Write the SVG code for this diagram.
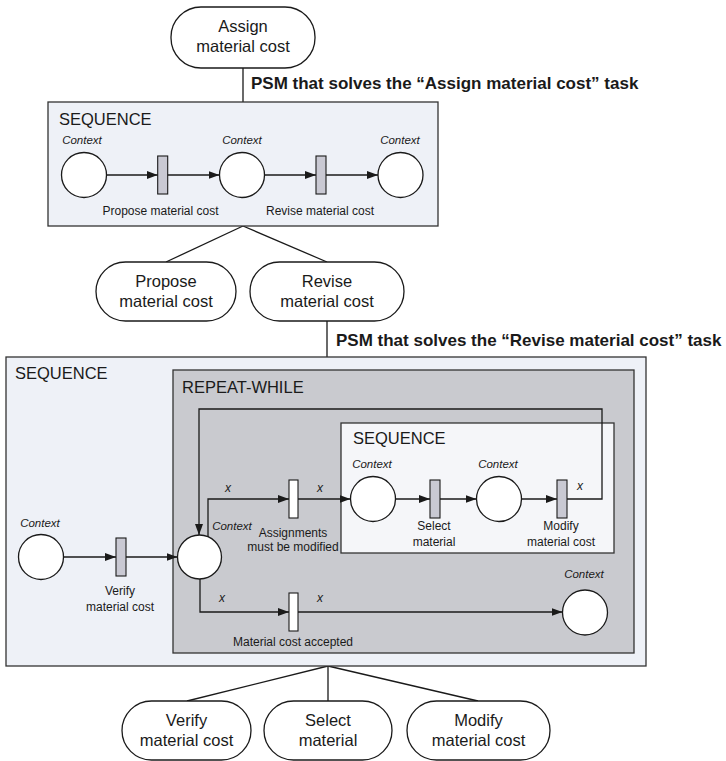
<svg xmlns="http://www.w3.org/2000/svg" width="726" height="761" viewBox="0 0 726 761">
<style>
text{font-family:"Liberation Sans",Arial,sans-serif;fill:#1a1a1a}
.task{font-size:16.5px;text-anchor:middle}
.hdr{font-size:16.5px}
.psm{font-size:17px;font-weight:bold}
.ctx{font-size:11.5px;font-style:italic;text-anchor:middle}
.lbl{font-size:12px;text-anchor:middle}
.x{font-size:12px;font-style:italic;text-anchor:middle}
.node{fill:#fff;stroke:#1a1a1a;stroke-width:1.3}
.place{fill:#fff;stroke:#1a1a1a;stroke-width:1.3}
.trg{fill:#c9c9d3;stroke:#1a1a1a;stroke-width:1.1}
.trw{fill:#fff;stroke:#1a1a1a;stroke-width:1.1}
.box1{fill:#eef1f7;stroke:#333;stroke-width:1.3}
.box2{fill:#c9cacf;stroke:#333;stroke-width:1.3}
.box3{fill:#f5f6f9;stroke:#333;stroke-width:1.3}
.c{fill:none;stroke:#1a1a1a;stroke-width:1.3}
.a{marker-end:url(#arr)}
</style>
<defs>
<marker id="arr" markerUnits="userSpaceOnUse" markerWidth="11" markerHeight="8" refX="11" refY="4" orient="auto">
<path d="M0,0 L11,4 L0,8 z" fill="#1a1a1a"/>
</marker>
</defs>

<g id="connectors-top">
<line class="c" x1="243" y1="68" x2="243" y2="102"/>
<line class="c" x1="243" y1="226" x2="166" y2="262"/>
<line class="c" x1="243" y1="226" x2="327" y2="262"/>
<line class="c" x1="327" y1="321" x2="327" y2="357"/>
<line class="c" x1="328" y1="666" x2="187" y2="701"/>
<line class="c" x1="328" y1="666" x2="328" y2="701"/>
<line class="c" x1="328" y1="666" x2="478" y2="701"/>
</g>

<g id="task-assign">
<rect class="node" x="171" y="7" width="144" height="61" rx="30" ry="30"/>
<text class="task" x="243" y="32">Assign</text>
<text class="task" x="243" y="52">material cost</text>
</g>
<text class="psm" x="251" y="89">PSM that solves the “Assign material cost” task</text>

<g id="psm-assign">
<rect class="box1" x="48" y="102" width="390" height="124"/>
<text class="hdr" x="59" y="125">SEQUENCE</text>
<text class="ctx" x="82" y="144">Context</text>
<text class="ctx" x="242" y="144">Context</text>
<text class="ctx" x="400" y="144">Context</text>
<circle class="place" cx="84" cy="175" r="22.5"/>
<circle class="place" cx="242" cy="175" r="22.5"/>
<circle class="place" cx="400.5" cy="175" r="22.5"/>
<rect class="trg" x="157.7" y="156" width="10" height="38"/>
<rect class="trg" x="316" y="156" width="10" height="38"/>
<text class="lbl" x="160.5" y="215">Propose material cost</text>
<text class="lbl" x="320" y="215">Revise material cost</text>
<g id="seq1-arcs">
<line class="c a" x1="106.5" y1="175" x2="157.7" y2="175"/>
<line class="c a" x1="167.7" y1="175" x2="219.5" y2="175"/>
<line class="c a" x1="264.5" y1="175" x2="316" y2="175"/>
<line class="c a" x1="326" y1="175" x2="378" y2="175"/>
</g>
</g>

<g id="task-propose">
<rect class="node" x="96" y="262" width="140" height="59" rx="29.5" ry="29.5"/>
<text class="task" x="166" y="287">Propose</text>
<text class="task" x="166" y="307">material cost</text>
</g>
<g id="task-revise">
<rect class="node" x="250" y="262" width="154" height="59" rx="29.5" ry="29.5"/>
<text class="task" x="327" y="287">Revise</text>
<text class="task" x="327" y="307">material cost</text>
</g>
<text class="psm" x="336" y="346">PSM that solves the “Revise material cost” task</text>

<g id="psm-revise">
<rect class="box1" x="6" y="357" width="640" height="309"/>
<text class="hdr" x="15" y="379">SEQUENCE</text>
<g id="repeat-while">
<rect class="box2" x="173" y="370" width="461" height="283"/>
<text class="hdr" x="182" y="393">REPEAT-WHILE</text>
<g id="inner-sequence">
<rect class="box3" x="341" y="423" width="273" height="130"/>
<text class="hdr" x="353" y="444">SEQUENCE</text>
<text class="ctx" x="372" y="468">Context</text>
<text class="ctx" x="498" y="468">Context</text>
<circle class="place" cx="373" cy="499" r="22.5"/>
<circle class="place" cx="499" cy="499" r="22.5"/>
<rect class="trg" x="430" y="480" width="10" height="38"/>
<rect class="trg" x="557" y="480" width="10" height="38"/>
<text class="lbl" x="434" y="530">Select</text>
<text class="lbl" x="434" y="546">material</text>
<text class="lbl" x="561" y="530">Modify</text>
<text class="lbl" x="561" y="546">material cost</text>
<text class="x" x="580" y="490">x</text>
</g>
<circle class="place" cx="199.5" cy="557" r="22"/>
<text class="ctx" x="232" y="530">Context</text>
<rect class="trw" x="289" y="480" width="9" height="38"/>
<text class="lbl" x="293" y="537">Assignments</text>
<text class="lbl" x="293" y="551">must be modified</text>
<text class="x" x="228" y="492">x</text>
<text class="x" x="320" y="492">x</text>
<rect class="trw" x="289" y="593" width="9" height="38"/>
<text class="lbl" x="293" y="646">Material cost accepted</text>
<text class="x" x="222" y="602">x</text>
<text class="x" x="320" y="602">x</text>
<text class="ctx" x="584" y="578">Context</text>
<circle class="place" cx="585" cy="612.5" r="22.5"/>
</g>
<text class="ctx" x="40" y="527">Context</text>
<circle class="place" cx="41" cy="557" r="22.5"/>
<rect class="trg" x="116" y="538" width="10" height="38"/>
<text class="lbl" x="120" y="595">Verify</text>
<text class="lbl" x="120" y="611">material cost</text>
<g id="seq2-arcs">
<line class="c a" x1="63.5" y1="557" x2="116" y2="557"/>
<line class="c a" x1="126" y1="557" x2="177.5" y2="557"/>
<path class="c a" d="M208,537 V499 H289"/>
<line class="c a" x1="298" y1="499" x2="350.5" y2="499"/>
<line class="c a" x1="395.5" y1="499" x2="430" y2="499"/>
<line class="c a" x1="440" y1="499" x2="476.5" y2="499"/>
<line class="c a" x1="521.5" y1="499" x2="557" y2="499"/>
<path class="c a" d="M567,499 H602 V409 H199 V535"/>
<path class="c a" d="M200,579 V612 H289"/>
<line class="c a" x1="298" y1="612" x2="562.5" y2="612"/>
</g>
</g>

<g id="task-verify">
<rect class="node" x="122" y="701" width="129" height="59" rx="29.5" ry="29.5"/>
<text class="task" x="186.5" y="726">Verify</text>
<text class="task" x="186.5" y="746">material cost</text>
</g>
<g id="task-select">
<rect class="node" x="264" y="701" width="128" height="59" rx="29.5" ry="29.5"/>
<text class="task" x="328" y="726">Select</text>
<text class="task" x="328" y="746">material</text>
</g>
<g id="task-modify">
<rect class="node" x="407" y="701" width="143" height="59" rx="29.5" ry="29.5"/>
<text class="task" x="478.5" y="726">Modify</text>
<text class="task" x="478.5" y="746">material cost</text>
</g>
</svg>
